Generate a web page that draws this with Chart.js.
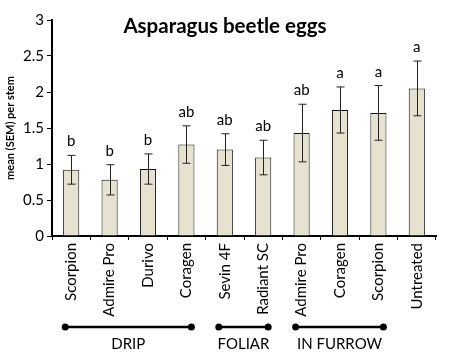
<!DOCTYPE html>
<html>
<head>
<meta charset="utf-8">
<script src="https://cdn.jsdelivr.net/npm/chart.js@4/dist/chart.umd.min.js"></script>
<style>
  html, body { margin: 0; padding: 0; background: #fff; }
  #wrap { width: 450px; height: 364px; }
</style>
</head>
<body>
<div id="wrap"><canvas id="eggsChart"></canvas></div>
<script>
// data
var treatments = ['Scorpion', 'Admire Pro', 'Durivo', 'Coragen', 'Sevin 4F', 'Radiant SC', 'Admire Pro', 'Coragen', 'Scorpion', 'Untreated'];
var eggMeans = [0.92, 0.78, 0.93, 1.27, 1.20, 1.09, 1.43, 1.75, 1.71, 2.05];
var eggSem = [0.20, 0.21, 0.21, 0.26, 0.22, 0.24, 0.40, 0.32, 0.38, 0.38];
var sigLetters = ['b', 'b', 'b', 'ab', 'ab', 'ab', 'ab', 'a', 'a', 'a'];
var groupNames = ['DRIP', 'FOLIAR', 'IN FURROW'];
var groupStart = [0, 4, 6];
var groupEnd = [3, 5, 8];
var yTicks = [0, 0.5, 1, 1.5, 2, 2.5, 3];

var FONT = 'Lato, "Open Sans", sans-serif';

var errorBars = {
    id: 'errorBars',
    afterDatasetsDraw: function (chart) {
        var ctx = chart.ctx;
        var y = chart.scales.y;
        var meta = chart.getDatasetMeta(0);
        ctx.save();
        ctx.strokeStyle = '#222';
        ctx.lineWidth = 1;
        meta.data.forEach(function (bar, i) {
            var top = y.getPixelForValue(eggMeans[i] + eggSem[i]);
            var bot = y.getPixelForValue(eggMeans[i] - eggSem[i]);
            var x = Math.round(bar.x) + 0.5;
            ctx.beginPath();
            ctx.moveTo(x, top); ctx.lineTo(x, bot);
            ctx.moveTo(x - 4, top); ctx.lineTo(x + 4, top);
            ctx.moveTo(x - 4, bot); ctx.lineTo(x + 4, bot);
            ctx.stroke();
            // significance letter
            ctx.fillStyle = '#000';
            ctx.font = '15px ' + FONT;
            ctx.textAlign = 'center';
            ctx.textBaseline = 'alphabetic';
            ctx.fillText(sigLetters[i], bar.x, top - 9);
        });
        ctx.restore();
    }
};

var extras = {
    id: 'extras',
    afterDraw: function (chart) {
        var ctx = chart.ctx;
        var x = chart.scales.x;
        ctx.save();
        // title sits inside the plot
        ctx.fillStyle = '#000';
        ctx.font = 'bold 20.5px ' + FONT;
        ctx.textAlign = 'center';
        ctx.textBaseline = 'middle';
        ctx.fillText('Asparagus beetle eggs', 225, 26);
        // application groups under the axis
        for (var g = 0; g < groupNames.length; g++) {
            var x0 = x.getPixelForValue(groupStart[g]) - 6;
            var x1 = x.getPixelForValue(groupEnd[g]) + 5;
            var ly = 327;
            ctx.strokeStyle = '#000';
            ctx.lineWidth = 2.5;
            ctx.beginPath();
            ctx.moveTo(x0, ly); ctx.lineTo(x1, ly);
            ctx.stroke();
            ctx.beginPath();
            ctx.arc(x0, ly, 3.5, 0, Math.PI * 2);
            ctx.arc(x1, ly, 3.5, 0, Math.PI * 2);
            ctx.fill();
            ctx.font = '15px ' + FONT;
            ctx.fillText(groupNames[g], (x0 + x1) / 2, 344);
        }
        ctx.restore();
    }
};

new Chart(document.getElementById('eggsChart'), {
    type: 'bar',
    data: {
        labels: treatments,
        datasets: [{
            data: eggMeans,
            backgroundColor: '#e7e2d0',
            borderColor: '#111',
            borderWidth: 1,
            barPercentage: 0.42,
            categoryPercentage: 1
        }]
    },
    options: {
        responsive: true,
        maintainAspectRatio: false,
        animation: false,
        layout: { padding: { top: 20, right: 14, left: 4, bottom: 0 } },
        plugins: { legend: { display: false }, tooltip: { enabled: false } },
        scales: {
            x: {
                afterFit: function (s) { s.height = 128; },
                grid: { drawOnChartArea: false, offset: true, tickLength: 4, color: '#000' },
                border: { color: '#000', width: 2 },
                ticks: {
                    minRotation: 90, maxRotation: 90, autoSkip: false,
                    color: '#000', padding: 3,
                    font: { family: FONT, size: 15 }
                }
            },
            y: {
                min: 0, max: 3,
                afterFit: function (s) { s.width = 48; },
                afterBuildTicks: function (s) { s.ticks = yTicks.map(function (v) { return { value: v }; }); },
                grid: { drawOnChartArea: false, tickLength: 5, color: '#000' },
                border: { color: '#000', width: 2 },
                ticks: {
                    color: '#000', padding: 3, font: { family: FONT, size: 15 },
                    callback: function (v) { return String(v); }
                },
                title: {
                    display: true, text: 'mean (SEM) per stem', color: '#000',
                    font: { family: FONT, size: 11, weight: 'bold' }, padding: 0
                }
            }
        }
    },
    plugins: [errorBars, extras]
});
</script>
</body>
</html>
